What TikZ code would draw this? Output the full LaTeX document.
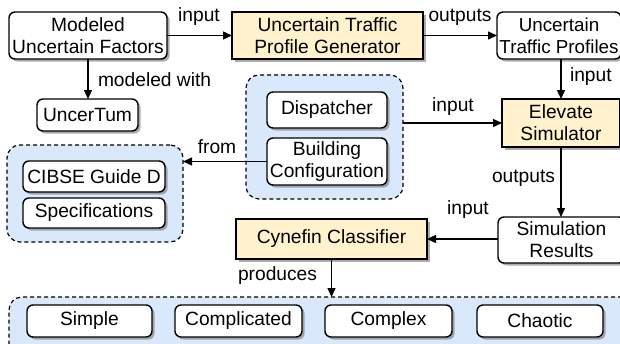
\documentclass[tikz,border=0pt]{standalone}
\usepackage{fontspec}
\setmainfont{Liberation Sans}
\usetikzlibrary{arrows.meta,shadows,calc}
\definecolor{yel}{HTML}{FFF2CC}
\definecolor{blu}{HTML}{DAE8FC}
\begin{document}
\begin{tikzpicture}[x=1pt,y=-1pt,
  font=\fontsize{19.2pt}{21.8pt}\selectfont,
  every node/.style={inner sep=0pt, outer sep=0pt},
  box/.style={draw=black, line width=1.4pt, rounded corners=6pt, fill=white, align=center,
    drop shadow={shadow xshift=2.5pt, shadow yshift=-2.5pt, fill=black!50, opacity=0.65}},
  ybox/.style={draw=black, line width=1.4pt, fill=yel, align=center,
    drop shadow={shadow xshift=2.5pt, shadow yshift=-2.5pt, fill=black!50, opacity=0.65}},
  grp/.style={draw=black, line width=1.2pt, dashed, dash pattern=on 4pt off 3pt, rounded corners=13pt, fill=blu},
  arr/.style={draw=black, line width=1.4pt, -{Triangle[length=9pt,width=8pt]}},
  lbl/.style={text=black}]
\useasboundingbox (0,0) rectangle (620,343);
% groups
\node[grp, minimum width=157pt, minimum height=124pt] (grp1) at (324.5,137) {};
\node[grp, minimum width=176pt, minimum height=97pt] (grp2) at (95,193.5) {};
\node[grp, minimum width=640pt, minimum height=70pt] (grp3) at (329,332) {};
% nodes
\node[box, minimum width=158pt, minimum height=47pt] (muf) at (88,35.5) {Modeled\\Uncertain Factors};
\node[ybox, minimum width=191pt, minimum height=47pt] (gen) at (327.5,35.5) {Uncertain Traffic\\Profile Generator};
\node[box, minimum width=124pt, minimum height=47pt, font=\fontsize{18.8pt}{21.8pt}\selectfont] (utp) at (559,35.5) {Uncertain\\Traffic Profiles};
\node[ybox, minimum width=118pt, minimum height=48pt] (elev) at (561,123) {Elevate\\Simulator};
\node[box, minimum width=101pt, minimum height=32pt] (unc) at (87.5,115) {UncerTum};
\node[box, minimum width=120pt, minimum height=36pt] (disp) at (327,110) {Dispatcher};
\node[box, minimum width=120pt, minimum height=47pt] (bc) at (327,161.5) {Building\\Configuration};
\node[box, minimum width=142pt, minimum height=31pt] (cib) at (94,176.5) {CIBSE Guide D};
\node[box, minimum width=142pt, minimum height=30pt] (spec) at (94,213) {Specifications};
\node[box, minimum width=127pt, minimum height=46pt] (sim) at (561.5,240) {Simulation\\Results};
\node[ybox, minimum width=191pt, minimum height=40pt] (cyn) at (331.5,239) {Cynefin Classifier};
\node[box, minimum width=125pt, minimum height=32pt] (simple) at (89.5,321) {Simple};
\node[box, minimum width=127pt, minimum height=32pt] (compl) at (238.5,321) {Complicated};
\node[box, minimum width=127pt, minimum height=32pt] (cplx) at (388.5,321) {Complex};
\node[box, minimum width=126pt, minimum height=32pt] (chao) at (540,321) {Chaotic};
% connectors
\draw[arr] (muf.east) -- (gen.west);
\node[lbl] (l1) at (199,17) {input};
\draw[arr] (gen.east) -- (utp.west);
\node[lbl] (l2) at (460,17) {outputs};
\draw[arr] (muf.south) -- (unc.north -| muf.south);
\node[lbl, anchor=west] (l3) at (98,80) {modeled with};
\draw[arr] (utp.south -| elev.north) -- (elev.north);
\node[lbl, anchor=west] (l4) at (570,77) {input};
\draw[arr] (elev.west -| grp1.east) -- (elev.west);
\node[lbl] (l5) at (453,107) {input};
\draw[arr] (bc.west) -- (bc.west -| grp2.east);
\node[lbl] (l6) at (217,147) {from};
\draw[arr] (elev.south) -- (sim.north -| elev.south);
\node[lbl, anchor=east] (l7) at (555,178) {outputs};
\draw[arr] (sim.west |- cyn.east) -- (cyn.east);
\node[lbl] (l8) at (468,210) {input};
\draw[arr] (cyn.south) -- (cyn.south |- grp3.north);
\node[lbl, anchor=east] (l9) at (317,276) {produces};
\end{tikzpicture}
\end{document}
